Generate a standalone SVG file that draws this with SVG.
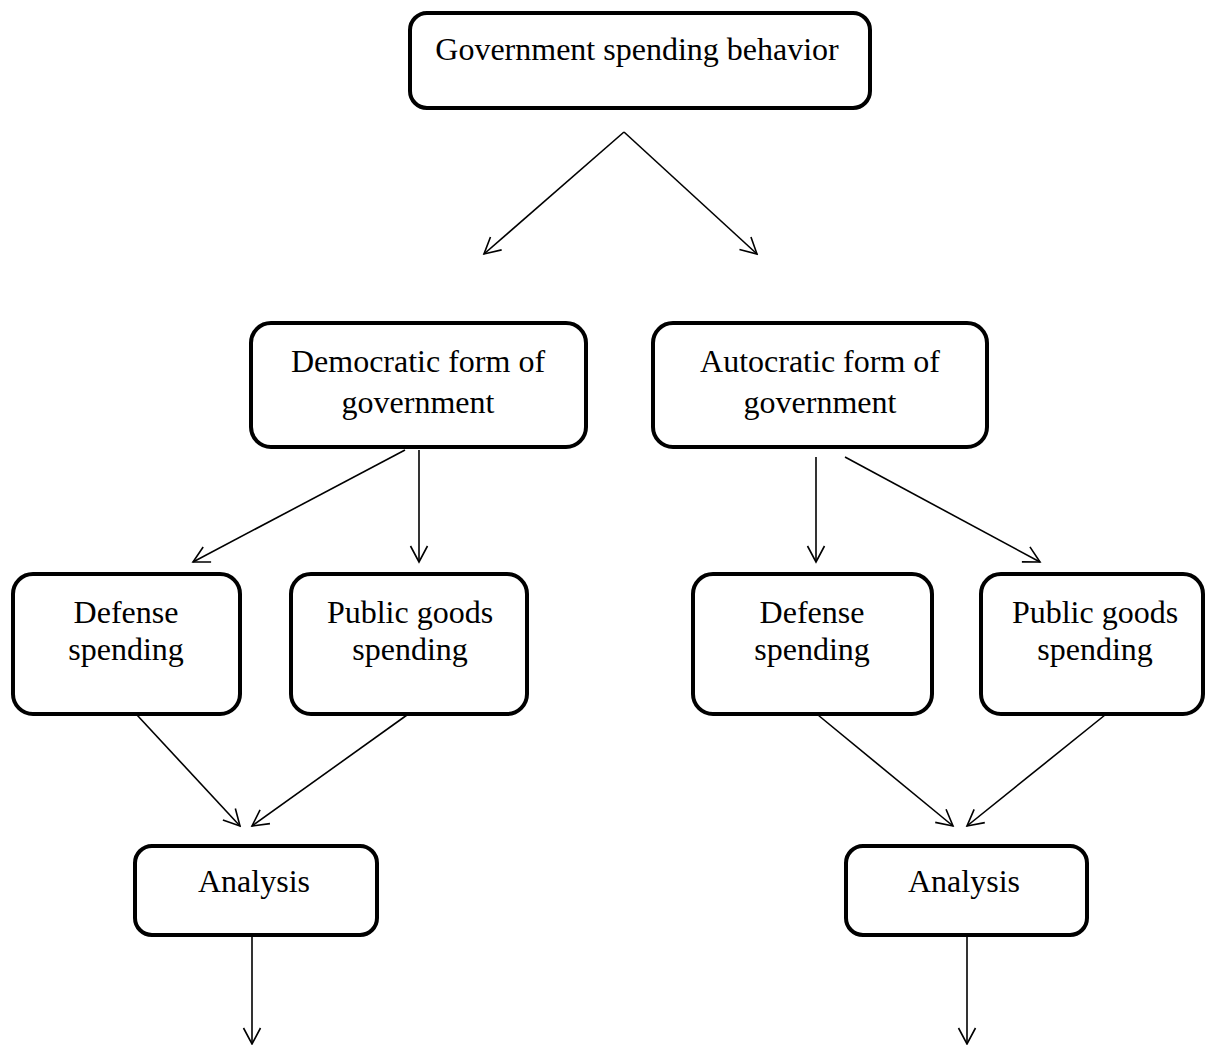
<svg xmlns="http://www.w3.org/2000/svg" width="1205" height="1045" viewBox="0 0 1205 1045">
<defs>
<style>
.box{fill:#fff;stroke:#000;stroke-width:4}
.t{font-family:"Liberation Serif","Times New Roman",serif;font-size:32px;fill:#000;text-anchor:middle}
.c{stroke:#000;stroke-width:1.6;fill:none;marker-end:url(#ah)}
</style>
<marker id="ah" markerUnits="userSpaceOnUse" markerWidth="20" markerHeight="20" viewBox="-18 -10 20 20" refX="0" refY="0" orient="auto">
<path d="M-16,-8.5 L0,0 L-16,8.5" fill="none" stroke="#000" stroke-width="1.6"/>
</marker>
</defs>
<rect width="1205" height="1045" fill="#fff"/>
<g id="connectors">
<line class="c" x1="624" y1="132" x2="484" y2="254"/>
<line class="c" x1="624" y1="132" x2="757" y2="254"/>
<line class="c" x1="405" y1="450" x2="193" y2="562"/>
<line class="c" x1="419" y1="450" x2="419" y2="562"/>
<line class="c" x1="816" y1="457" x2="816" y2="562"/>
<line class="c" x1="845" y1="457" x2="1040" y2="562"/>
<line class="c" x1="137" y1="715" x2="240" y2="826"/>
<line class="c" x1="407" y1="715" x2="252" y2="826"/>
<line class="c" x1="818" y1="715" x2="953" y2="826"/>
<line class="c" x1="1105" y1="715" x2="967" y2="826"/>
<line class="c" x1="252" y1="936" x2="252" y2="1044"/>
<line class="c" x1="967" y1="936" x2="967" y2="1044"/>
</g>
<g id="top">
<rect class="box" x="410" y="13" width="460" height="95" rx="17"/>
<text class="t" x="637" y="60">Government spending behavior</text>
</g>
<g id="democratic">
<rect class="box" x="251" y="323" width="335" height="124" rx="20"/>
<text class="t" x="418" y="372">Democratic form of</text>
<text class="t" x="418" y="413">government</text>
</g>
<g id="autocratic">
<rect class="box" x="653" y="323" width="334" height="124" rx="20"/>
<text class="t" x="820" y="372">Autocratic form of</text>
<text class="t" x="820" y="413">government</text>
</g>
<g id="defense-left">
<rect class="box" x="13" y="574" width="227" height="140" rx="20"/>
<text class="t" x="126" y="623">Defense</text>
<text class="t" x="126" y="660">spending</text>
</g>
<g id="public-left">
<rect class="box" x="291" y="574" width="236" height="140" rx="20"/>
<text class="t" x="410" y="623">Public goods</text>
<text class="t" x="410" y="660">spending</text>
</g>
<g id="defense-right">
<rect class="box" x="693" y="574" width="239" height="140" rx="20"/>
<text class="t" x="812" y="623">Defense</text>
<text class="t" x="812" y="660">spending</text>
</g>
<g id="public-right">
<rect class="box" x="981" y="574" width="222" height="140" rx="20"/>
<text class="t" x="1095" y="623">Public goods</text>
<text class="t" x="1095" y="660">spending</text>
</g>
<g id="analysis-left">
<rect class="box" x="135" y="846" width="242" height="89" rx="17"/>
<text class="t" x="254" y="892">Analysis</text>
</g>
<g id="analysis-right">
<rect class="box" x="846" y="846" width="241" height="89" rx="17"/>
<text class="t" x="964" y="892">Analysis</text>
</g>
</svg>
